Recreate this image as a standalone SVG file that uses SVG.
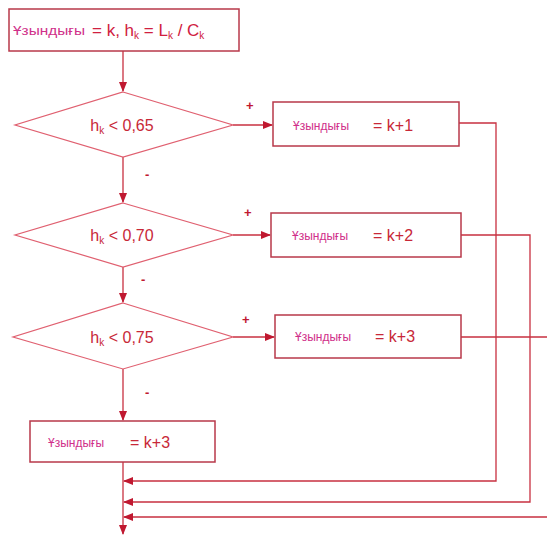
<svg xmlns="http://www.w3.org/2000/svg" width="547" height="536" viewBox="0 0 547 536">
<defs>
<marker id="ah" markerWidth="10" markerHeight="8" refX="9" refY="4" orient="auto" markerUnits="userSpaceOnUse">
<path d="M0,0 L10,4 L0,8 Z" fill="#c01830"/>
</marker>
<style>
.box{fill:#fff;stroke:#b8384a;stroke-width:1.5}
.dia{fill:#fff;stroke:#e06070;stroke-width:1.2}
.ln{fill:none;stroke:#c83040;stroke-width:1.3}
.w{font-family:"Liberation Sans",Arial,sans-serif;font-size:12px;fill:#d0308a}
.t{font-family:"Liberation Sans",Arial,sans-serif;font-size:17px;fill:#d02040}
.c{font-family:"Liberation Sans",Arial,sans-serif;font-size:16px;fill:#c82838}
.s{font-family:"Liberation Sans",Arial,sans-serif;font-size:13px;fill:#c01830;font-weight:bold}
</style>
</defs>
<g id="connectors">
<path class="ln" d="M123,51 V91" marker-end="url(#ah)"/>
<path class="ln" d="M123,157 V202" marker-end="url(#ah)"/>
<path class="ln" d="M123,267 V302" marker-end="url(#ah)"/>
<path class="ln" d="M123,369 V420" marker-end="url(#ah)"/>
<path class="ln" d="M123,462 V534" marker-end="url(#ah)"/>
<path class="ln" d="M233,125 H272" marker-end="url(#ah)"/>
<path class="ln" d="M233,235 H270" marker-end="url(#ah)"/>
<path class="ln" d="M233,337 H274" marker-end="url(#ah)"/>
<path class="ln" d="M459,123 H496 V481 H124" marker-end="url(#ah)"/>
<path class="ln" d="M461,235 H530 V502 H124" marker-end="url(#ah)"/>
<path class="ln" d="M461,337 H547 M547,517 H124" marker-end="url(#ah)"/>
<text class="s" x="246" y="110">+</text>
<text class="s" x="244" y="217">+</text>
<text class="s" x="242" y="324">+</text>
<text class="s" x="145" y="179">-</text>
<text class="s" x="141" y="284">-</text>
<text class="s" x="145" y="397">-</text>
</g>
<g id="start">
<rect class="box" x="9" y="9" width="230" height="42"/>
<text class="w" x="13" y="35" font-size="13.5" textLength="72" lengthAdjust="spacingAndGlyphs">Ұзындығы</text>
<text class="t" x="92" y="36">= k, h<tspan font-size="10" dy="3">k</tspan><tspan dy="-3"> = L</tspan><tspan font-size="10" dy="3">k</tspan><tspan dy="-3"> / C</tspan><tspan font-size="10" dy="3">k</tspan></text>
</g>
<g id="d1">
<polygon class="dia" points="123,92 233,125 123,157 15,125"/>
<text class="c" x="122" y="131" text-anchor="middle">h<tspan font-size="10" dy="3">k</tspan><tspan dy="-3"> &lt; 0,65</tspan></text>
</g>
<g id="b1">
<rect class="box" x="273" y="102" width="186" height="44"/>
<text class="w" x="293" y="130">Ұзындығы</text>
<text class="c" x="373" y="131">= k+1</text>
</g>
<g id="d2">
<polygon class="dia" points="123,203 233,235 123,267 15,235"/>
<text class="c" x="122" y="241" text-anchor="middle">h<tspan font-size="10" dy="3">k</tspan><tspan dy="-3"> &lt; 0,70</tspan></text>
</g>
<g id="b2">
<rect class="box" x="271" y="213" width="190" height="44"/>
<text class="w" x="292" y="240">Ұзындығы</text>
<text class="c" x="373" y="241">= k+2</text>
</g>
<g id="d3">
<polygon class="dia" points="123,303 233,337 123,369 13,337"/>
<text class="c" x="122" y="343" text-anchor="middle">h<tspan font-size="10" dy="3">k</tspan><tspan dy="-3"> &lt; 0,75</tspan></text>
</g>
<g id="b3">
<rect class="box" x="275" y="315" width="186" height="43"/>
<text class="w" x="295" y="341">Ұзындығы</text>
<text class="c" x="375" y="342">= k+3</text>
</g>
<g id="b4">
<rect class="box" x="30" y="421" width="185" height="41"/>
<text class="w" x="48" y="447">Ұзындығы</text>
<text class="c" x="130" y="448">= k+3</text>
</g>
</svg>
